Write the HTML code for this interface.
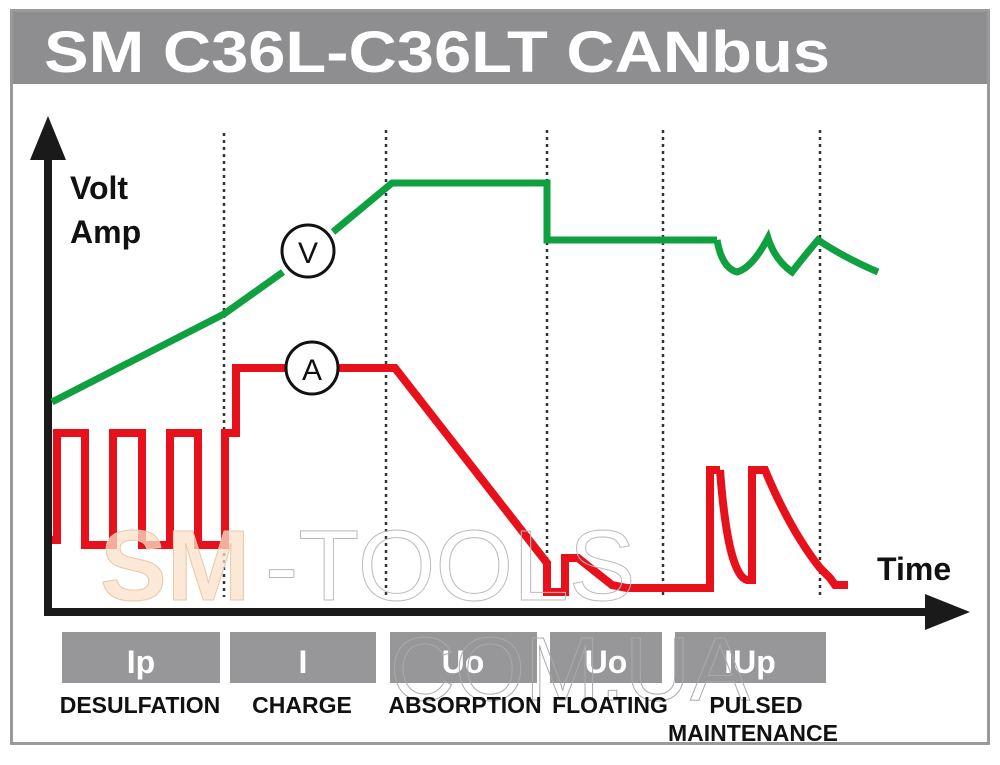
<!DOCTYPE html>
<html><head><meta charset="utf-8"><style>
html,body{margin:0;padding:0;background:#fff;}
svg{display:block;}
text{font-family:"Liberation Sans",sans-serif;}
</style></head><body>
<svg width="1000" height="765" viewBox="0 0 1000 765" xmlns="http://www.w3.org/2000/svg">
<rect x="0" y="0" width="1000" height="765" fill="#fff"/>
<rect x="11" y="10" width="978" height="74" fill="#8e8e90"/>
<rect x="11.5" y="10.5" width="977" height="733" fill="none" stroke="#9a9a9c" stroke-width="3"/>
<text x="44" y="72" font-size="58" fill="#fff" font-weight="bold" textLength="786" lengthAdjust="spacingAndGlyphs">SM C36L-C36LT CANbus</text>

<!-- dashed lines -->
<g stroke="#333" stroke-width="2.5" stroke-dasharray="3,4">
<line x1="224" y1="133" x2="224" y2="597"/>
<line x1="386" y1="130" x2="386" y2="597"/>
<line x1="547" y1="130" x2="547" y2="597"/>
<line x1="663" y1="130" x2="663" y2="597"/>
<line x1="820" y1="130" x2="820" y2="597"/>
</g>

<!-- axes -->
<line x1="48" y1="150" x2="48" y2="614" stroke="#1a1a1a" stroke-width="8"/>
<polygon points="48,116 30,160 66,160" fill="#1a1a1a"/>
<line x1="44" y1="612" x2="930" y2="612" stroke="#1a1a1a" stroke-width="8"/>
<polygon points="970,612 925,594 925,630" fill="#1a1a1a"/>

<text x="70" y="199" font-size="32" font-weight="bold" fill="#111">Volt</text>
<text x="70" y="243" font-size="32" font-weight="bold" fill="#111">Amp</text>
<text x="877" y="580" font-size="32" font-weight="bold" fill="#111">Time</text>

<!-- green -->
<polyline fill="none" stroke="#0fa040" stroke-width="7" stroke-linejoin="miter"
 points="52,402 224,314 283,272"/>
<polyline fill="none" stroke="#0fa040" stroke-width="7"
 points="333,232 392,183 547,183 547,240 717,240"/>
<path d="M717,240 Q722,268 737,272 Q752,268 768,238 Q775,260 792,272 Q805,255 818,240 Q845,258 878,272" fill="none" stroke="#0fa040" stroke-width="7"/>
<circle cx="308" cy="251" r="26" fill="#fff" stroke="#111" stroke-width="3"/>
<text x="308" y="263" font-size="30" text-anchor="middle" fill="#111">V</text>

<!-- red -->
<polyline fill="none" stroke="#e8101a" stroke-width="8" stroke-linejoin="miter"
 points="52,540 57,540 57,433 85,433 85,545 113,545 113,433 142,433 142,545 170,545 170,433 198,433 198,545 225,545 225,433 236,433 236,368 285,368"/>
<polyline fill="none" stroke="#e8101a" stroke-width="8"
 points="339,368 395,368 547,563 547,592 565,592 565,558 578,558 612,585 627,588 710,588 710,470 720,470"/>
<path d="M720,470 Q728,575 747,580 L752,580 L752,470 L765,470 Q790,530 820,568 L830,578 L835,585 L848,585" fill="none" stroke="#e8101a" stroke-width="8"/>
<circle cx="312" cy="368" r="26" fill="#fff" stroke="#111" stroke-width="3"/>
<text x="312" y="380" font-size="30" text-anchor="middle" fill="#111">A</text>

<!-- watermark -->
<text x="100" y="600" font-size="100" font-weight="bold" fill="#fbe0c8" fill-opacity="0.75" stroke="#e8c8a8" stroke-width="1">SM</text>
<text x="265" y="600" font-size="100" fill="none" stroke="#bbb" stroke-width="1">-TOOLS</text>

<!-- boxes -->
<g fill="#97979a">
<rect x="62" y="632" width="158" height="51"/>
<rect x="230" y="632" width="146" height="51"/>
<rect x="390" y="632" width="147" height="51"/>
<rect x="550" y="632" width="112" height="51"/>
<rect x="675" y="632" width="151" height="51"/>
</g>
<g fill="#fff" font-size="32" font-weight="bold" text-anchor="middle">
<text x="141" y="673">Ip</text>
<text x="303" y="673">I</text>
<text x="463" y="673">Uo</text>
<text x="606" y="673">Uo</text>
<text x="750" y="673">IUp</text>
</g>
<text x="390" y="700" font-size="90" fill="none" stroke="#aaa" stroke-width="1">COM.UA</text>
<g fill="#111" font-size="23" font-weight="bold" text-anchor="middle">
<text x="140" y="713">DESULFATION</text>
<text x="302" y="713">CHARGE</text>
<text x="465" y="713">ABSORPTION</text>
<text x="610" y="713">FLOATING</text>
<text x="756" y="713">PULSED</text>
<text x="753" y="741">MAINTENANCE</text>
</g>
</svg>
</body></html>
